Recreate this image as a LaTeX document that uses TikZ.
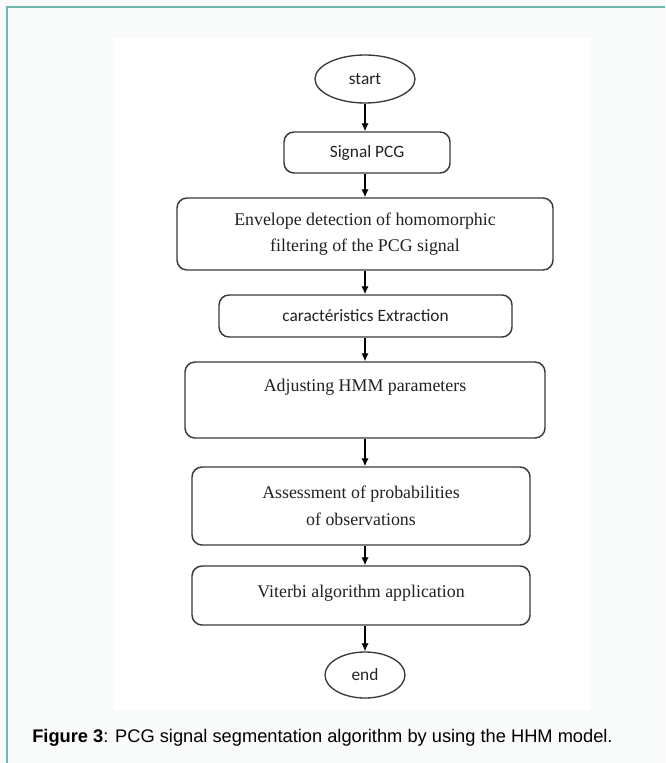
\documentclass[tikz,border=0pt]{standalone}
\usepackage{fontspec}
\setmainfont{Liberation Serif}
\newfontfamily\calib{Carlito}
\newfontfamily\arial{Liberation Sans}
\usetikzlibrary{shapes.geometric,arrows.meta}
\definecolor{bgc}{HTML}{F9FBFB}
\definecolor{framec}{HTML}{72B4B0}
\definecolor{boxc}{HTML}{3A3A3A}
\definecolor{txtc}{HTML}{222222}
\tikzset{
  procbox/.style={draw=boxc, line width=1.1pt, rounded corners=7.5pt, fill=white,
    text=txtc, align=center, inner sep=0pt},
  serifbox/.style={procbox, font=\fontsize{13.4}{20}\selectfont},
  sansbox/.style={procbox, font=\calib\fontsize{13}{16}\selectfont},
  term/.style={draw=boxc, line width=1pt, ellipse, fill=white, text=txtc,
    inner sep=0pt, font=\calib\fontsize{13}{16}\selectfont},
  arr/.style={draw=black, line width=0.9pt, -{Latex[length=6pt,width=5.5pt]}},
}
\begin{document}
\begin{tikzpicture}[x=0.75pt,y=-0.75pt]
\useasboundingbox (0,0) rectangle (665,763);
\fill[bgc] (0,0) rectangle (665,763);
\fill[white] (114,38) rectangle (591,710);
\draw[framec, line width=1.6pt] (7,763) -- (7,7) -- (665,7);

\node[term, minimum width=75pt, minimum height=36pt] (start) at (365,79) {start};
\node[sansbox, minimum width=124.5pt, minimum height=30.75pt] (sig) at (367,152.5) {Signal PCG};
\node[serifbox, minimum width=282pt, minimum height=54pt] (env) at (365,234)
  {Envelope detection of homomorphic\\ filtering of the PCG signal};
\node[sansbox, minimum width=219.75pt, minimum height=31.5pt] (car) at (365.5,316) {caractéristics Extraction};
\node[serifbox, minimum width=270pt, minimum height=57pt, text depth=22pt] (adj) at (365,400) {Adjusting HMM parameters};
\node[serifbox, minimum width=253.5pt, minimum height=58.5pt] (ass) at (361,506)
  {Assessment of probabilities\\ of observations};
\node[serifbox, minimum width=253.5pt, minimum height=44.25pt, text depth=7pt] (vit) at (361,595.5) {Viterbi algorithm application};
\node[term, minimum width=60pt, minimum height=34.5pt] (end) at (365,675) {end};

\draw[arr] (start.south) -- (start.south |- sig.north);
\draw[arr] (start.south |- sig.south) -- (start.south |- env.north);
\draw[arr] (start.south |- env.south) -- (start.south |- car.north);
\draw[arr] (start.south |- car.south) -- (start.south |- adj.north);
\draw[arr] (start.south |- adj.south) -- (start.south |- ass.north);
\draw[arr] (start.south |- ass.south) -- (start.south |- vit.north);
\draw[arr] (start.south |- vit.south) -- (end.north);

\node[anchor=base west, inner sep=0pt, text=black, font=\arial\fontsize{13.7}{16}\selectfont] (cap) at (32,742)
  {\textbf{Figure 3}: PCG signal segmentation algorithm by using the HHM model.};
\end{tikzpicture}
\end{document}
